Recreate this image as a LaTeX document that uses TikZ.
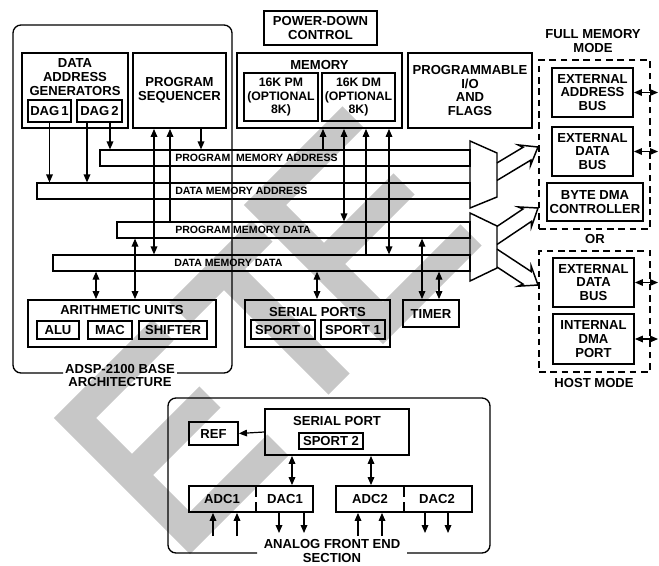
\documentclass[tikz,border=0pt]{standalone}
\usepackage{fontspec}
\setmainfont{Liberation Sans}
\usetikzlibrary{arrows.meta}

\tikzset{
  box/.style={draw, line width=1.4pt, inner sep=0pt, align=center},
  subbox/.style={draw, line width=1.1pt, inner sep=0pt, align=center},
  bus/.style={draw, line width=0.9pt, inner sep=0pt},
  dashbox/.style={draw, line width=1.3pt, dash pattern=on 5pt off 3.5pt, inner sep=0pt},
  frame/.style={line width=1pt, rounded corners=6pt},
  sz/.style 2 args={minimum width=#1*0.75pt, minimum height=#2*0.75pt},
  wire/.style={line width=0.9pt, -{Triangle[length=6pt,width=5pt]}},
  biwire/.style={line width=0.9pt, {Triangle[length=6pt,width=5pt]}-{Triangle[length=6pt,width=5pt]}},
  txt/.style={inner sep=0pt, align=center},
  buslabel/.style={inner sep=0pt, anchor=west, font=\fontsize{7.9}{8}\selectfont\bfseries},
  fat/.style={line width=1.1pt, line join=miter},
  stamp/.style={line width=22.5pt, black!22},
}

\begin{document}
\begin{tikzpicture}[x=0.75pt, y=-0.75pt, font=\fontsize{9.8}{10.2}\selectfont\bfseries]

\useasboundingbox (0,0) rectangle (659,565);

% watermark
\draw[stamp] (163,330) -- (75,418) -- (190,533) -- (278,445);
\draw[stamp] (132,475) -- (210,397);
\draw[stamp] (180,313) -- (262,231);
\draw[stamp] (224,269) -- (339,384);
\draw[stamp] (353,117) -- (265,205) -- (383,323) -- (471,235);
\draw[stamp] (324,264) -- (404,184);

% base architecture
\draw[frame] (63,373) -- (13,373) -- (13,25) -- (232,25) -- (232,373) -- (177,373);
\node[txt] (base) at (120,375.5) {ADSP-2100 BASE\\ARCHITECTURE};

\node[box, sz={106}{75}] (dag) at (75,90.5) {};
\node[txt] (dagtitle) at (75,77) {DATA\\ADDRESS\\GENERATORS};
\node[subbox, sz={43}{22}] (dagone) at (49.5,111) {DAG\,1};
\node[subbox, sz={45}{22}] (dagtwo) at (99.5,111) {DAG\,2};

\node[box, sz={93}{75}] (seq) at (179.5,90.5) {PROGRAM\\SEQUENCER};
\node[box, sz={113}{34}] (pwr) at (320.5,28) {POWER-DOWN\\CONTROL};

\node[box, sz={165}{75}] (mem) at (319.5,90.5) {};
\node[txt] (memtitle) at (319.5,65) {MEMORY};
\node[subbox, sz={74}{48}, font=\fontsize{9.2}{10}\selectfont\bfseries] (pm) at (281,97) {16K PM\\(OPTIONAL\\8K)};
\node[subbox, sz={73}{48}, font=\fontsize{9.2}{10}\selectfont\bfseries] (dm) at (358.5,97) {16K DM\\(OPTIONAL\\8K)};

\node[box, sz={124}{75}] (pio) at (470,90.5) {PROGRAMMABLE\\I/O\\AND\\FLAGS};

% external side
\node[txt] (fmlabel) at (593,41) {FULL MEMORY\\MODE};
\node[dashbox, sz={111}{169}] (fm) at (594.5,144.5) {};
\node[box, sz={81}{49}] (eab) at (592.5,92.5) {EXTERNAL\\ADDRESS\\BUS};
\node[box, sz={81}{49}] (edb) at (592.5,151.5) {EXTERNAL\\DATA\\BUS};
\node[box, sz={96}{38}] (bdma) at (595,202) {BYTE DMA\\CONTROLLER};
\node[txt] (orlabel) at (595,239) {OR};
\node[dashbox, sz={111}{121}] (hm) at (594.5,311.5) {};
\node[box, sz={81}{49}] (hedb) at (593.5,282.5) {EXTERNAL\\DATA\\BUS};
\node[box, sz={81}{50}] (idma) at (593.5,339) {INTERNAL\\DMA\\PORT};
\node[txt] (hmlabel) at (594,383) {HOST MODE};

\coordinate (eabext) at (658,92.5);
\coordinate (edbext) at (658,151.5);
\coordinate (hedbext) at (658,282.5);
\coordinate (idmaext) at (658,339);
\draw[biwire] (eab.east) -- (eabext);
\draw[biwire] (edb.east) -- (edbext);
\draw[biwire] (hedb.east) -- (hedbext);
\draw[biwire] (idma.east) -- (idmaext);

% buses
\node[bus, sz={370}{16}] (pma) at (285,158) {};
\node[buslabel] (pmalabel) at (175,158) {PROGRAM\ \ MEMORY ADDRESS};
\node[bus, sz={433}{16}] (dma) at (253.5,191) {};
\node[buslabel] (dmalabel) at (175,191) {DATA MEMORY ADDRESS};
\node[bus, sz={353}{16}] (pmd) at (293.5,230) {};
\node[buslabel] (pmdlabel) at (175,230) {PROGRAM MEMORY DATA};
\node[bus, sz={417}{16}] (dmd) at (261.5,263) {};
\node[buslabel] (dmdlabel) at (174,263) {DATA MEMORY DATA};

% muxes and wide arrows
\draw[fat] (470,141) -- (497,153) -- (497,197) -- (470,208) -- cycle;
\draw[fat] (470,213) -- (497,226) -- (497,268) -- (470,281) -- cycle;
\draw[fat] (497,162.9) -- (523.0,147.3) -- (518.1,144.9) -- (538,147) -- (530.5,165.5) -- (530.8,160.1) -- (497,180.4);
\draw[fat] (497,226.4) -- (523.0,209.0) -- (518.0,206.9) -- (538,208) -- (531.4,226.9) -- (531.4,221.4) -- (497,244.5);
\draw[fat] (497,249.1) -- (531.2,271.6) -- (531.2,266.2) -- (538,285) -- (518.0,286.2) -- (523.0,284.1) -- (497,267);

% units below the buses
\node[box, sz={188}{47}] (arith) at (122,323.5) {};
\node[txt] (arithtitle) at (122,310) {ARITHMETIC UNITS};
\node[subbox, sz={42}{18}] (alu) at (58,330) {ALU};
\node[subbox, sz={44}{18}] (mac) at (110,330) {MAC};
\node[subbox, sz={68}{18}] (shf) at (173,330) {SHIFTER};

\node[box, sz={145}{47}] (ser) at (317.5,323.5) {};
\node[txt] (sertitle) at (317.5,312) {SERIAL PORTS};
\node[subbox, sz={64}{19}] (spzero) at (283,329.5) {SPORT 0};
\node[subbox, sz={64}{19}] (spone) at (353,329.5) {SPORT 1};
\node[box, sz={56}{27}] (timer) at (431,313.5) {TIMER};

\draw[wire] (dagone.south) -- (dagone.south |- dma.north);
\draw[wire] (87,0 |- dagtwo.south) -- (87,0 |- dma.north);
\draw[wire] (110,0 |- dagtwo.south) -- (110,0 |- pma.north);
\draw[biwire] (154,0 |- seq.south) -- (154,0 |- dmd.north);
\draw[wire] (170,0 |- pmd.north) -- (170,0 |- seq.south);
\draw[wire] (201,0 |- seq.south) -- (201,0 |- pma.north);
\draw[wire] (323,0 |- pma.north) -- (323,0 |- mem.south);
\draw[biwire] (344,0 |- mem.south) -- (344,0 |- pmd.north);
\draw[wire] (366,0 |- dmd.north) -- (366,0 |- mem.south);
\draw[biwire] (389,0 |- mem.south) -- (389,0 |- dmd.north);
\draw[biwire] (135,0 |- pmd.south) -- (135,0 |- arith.north);
\draw[biwire] (96,0 |- dmd.south) -- (96,0 |- arith.north);
\draw[biwire] (317,0 |- dmd.south) -- (317,0 |- ser.north);
\draw[biwire] (422,0 |- pmd.south) -- (422,0 |- timer.north);
\draw[biwire] (439,0 |- dmd.south) -- (439,0 |- timer.north);

% analog front end
\draw[frame] (257,553) -- (168,553) -- (168,398) -- (490,398) -- (490,553) -- (407,553);
\node[txt] (afe) at (332,551) {ANALOG FRONT END\\SECTION};

\node[box, sz={144}{46}] (sp) at (337,432) {};
\node[txt] (sptitle) at (337,421) {SERIAL PORT};
\node[subbox, sz={64}{16}] (sptwo) at (331,441) {SPORT 2};
\node[box, sz={49}{23}] (ref) at (213.5,433.5) {REF};

\node[box, sz={124}{26}] (codecone) at (251,499) {};
\node[txt] (adcone) at (222,499) {ADC1};
\node[txt] (dacone) at (285,499) {DAC1};
\node[box, sz={136}{26}] (codectwo) at (404,499) {};
\node[txt] (adctwo) at (370,499) {ADC2};
\node[txt] (dactwo) at (437,499) {DAC2};
\draw[line width=1.1pt] (256,486) -- (256,497) (256,502) -- (256,512);
\draw[line width=1.1pt] (404,486) -- (404,497) (404,502) -- (404,512);

\draw[wire] (sp.west) -- (ref.east);
\draw[biwire] (292,0 |- sp.south) -- (292,0 |- codecone.north);
\draw[biwire] (371,0 |- sp.south) -- (371,0 |- codectwo.north);

\foreach \x in {213,237} {
  \coordinate (in\x) at (\x,536);
  \draw[wire] (in\x) -- (\x,0 |- codecone.south);
}
\foreach \x in {358,382} {
  \coordinate (in\x) at (\x,536);
  \draw[wire] (in\x) -- (\x,0 |- codectwo.south);
}
\foreach \x in {279,304} {
  \coordinate (out\x) at (\x,533);
  \draw[wire] (\x,0 |- codecone.south) -- (out\x);
}
\foreach \x in {425,448} {
  \coordinate (out\x) at (\x,533);
  \draw[wire] (\x,0 |- codectwo.south) -- (out\x);
}

\end{tikzpicture}
\end{document}
